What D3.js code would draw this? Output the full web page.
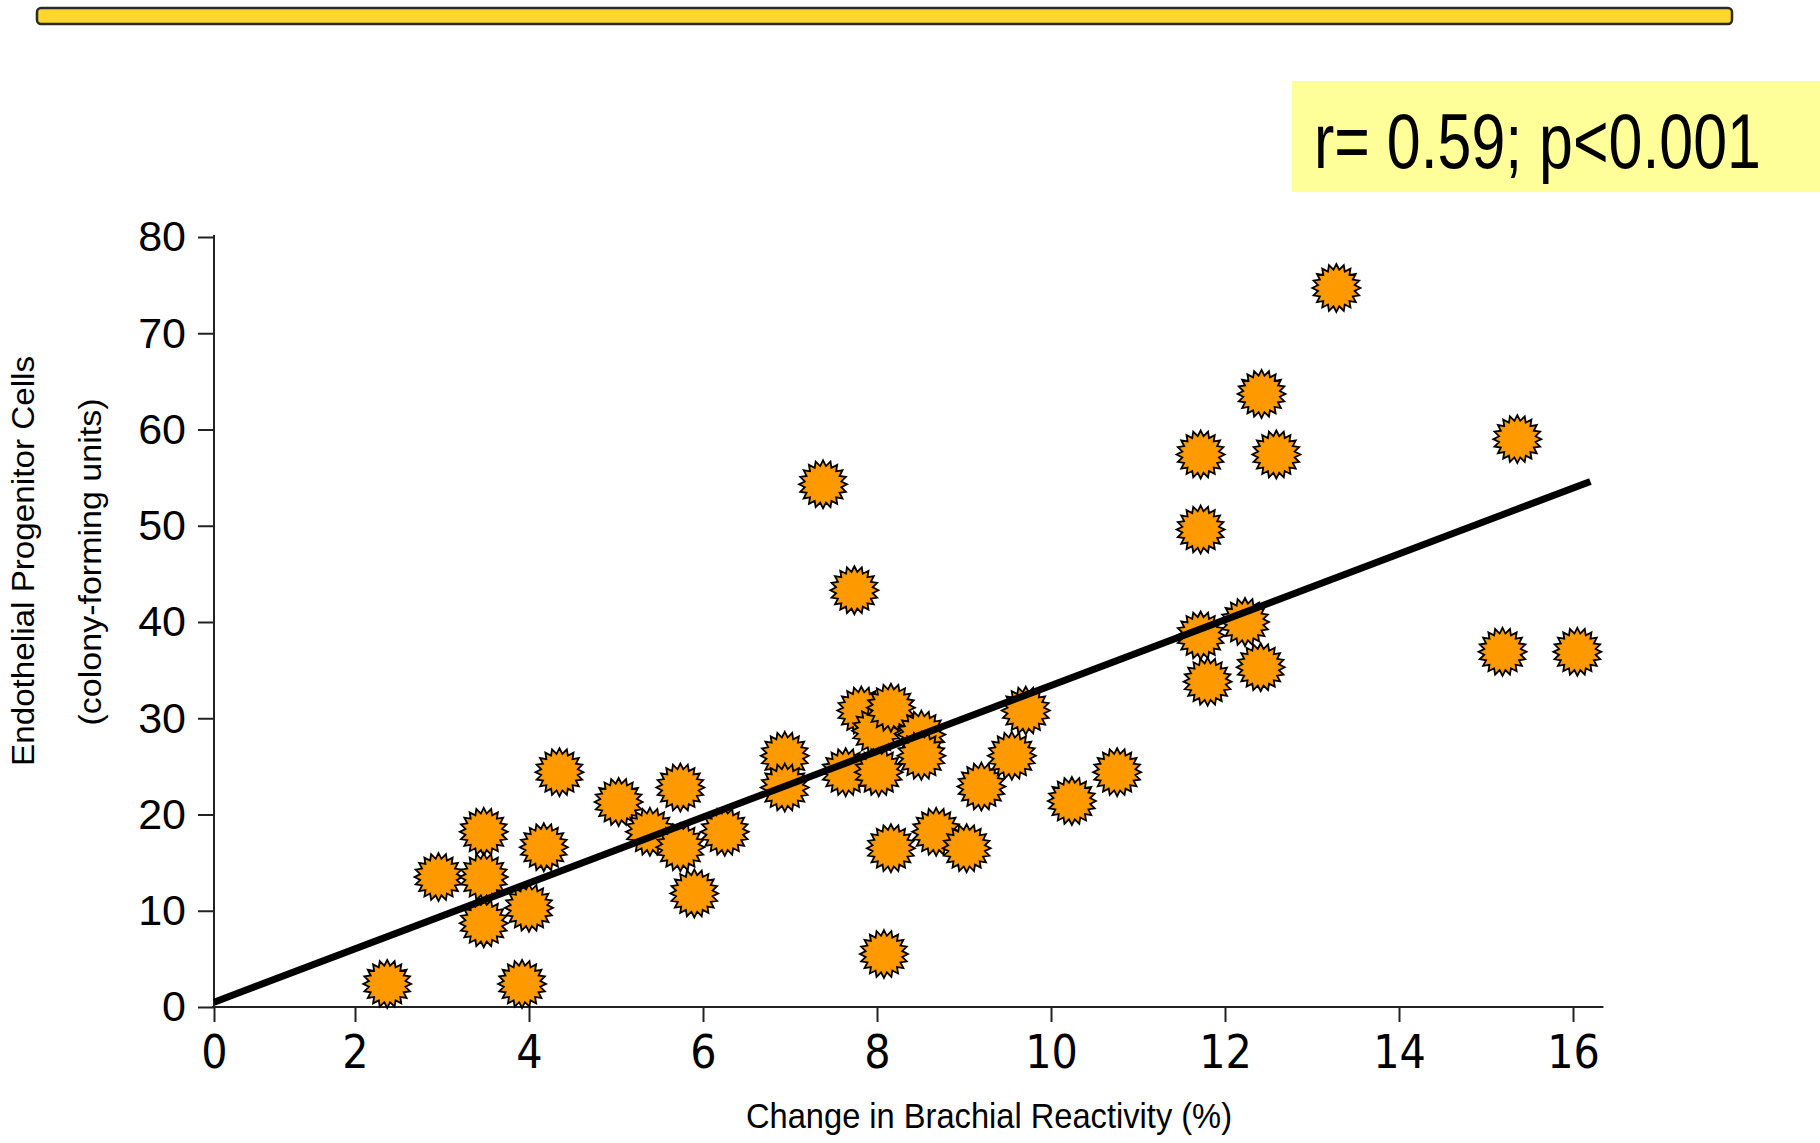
<!DOCTYPE html>
<html>
<head>
<meta charset="utf-8">
<script src="https://cdn.jsdelivr.net/npm/d3@7"></script>
<style>
  html, body { margin: 0; padding: 0; background: #fff; }
  svg { display: block; font-family: "Liberation Sans", Arial, sans-serif; }
</style>
</head>
<body>
<svg id="chart"></svg>
<script>
// change in brachial reactivity (%) vs EPC colony-forming units
const xValues = [2.37, 3.92, 2.96, 3.48, 3.48, 3.48, 4.00, 4.17, 4.35, 5.03,
  5.39, 5.74, 5.74, 5.90, 6.25, 6.94, 6.94, 7.38, 7.74, 7.64,
  7.82, 7.99, 8.16, 8.02, 8.51, 8.51, 8.16, 8.08, 8.68, 9.03,
  9.20, 9.55, 9.71, 10.24, 10.76, 11.72, 11.72, 11.72, 11.80, 12.23,
  12.42, 12.59, 12.41, 13.28, 15.36, 15.19, 16.05];
const yValues = [2.4, 2.4, 13.5, 18.2, 13.5, 8.7, 10.3, 16.6, 24.4, 21.3,
  18.2, 22.8, 16.6, 11.8, 18.2, 26.1, 22.8, 54.3, 43.3, 24.4,
  30.8, 28.7, 31.1, 24.4, 28.3, 26.1, 16.5, 5.5, 18.2, 16.5,
  22.9, 26.1, 30.8, 21.4, 24.4, 57.4, 49.6, 38.6, 33.8, 40.0,
  63.7, 57.4, 35.3, 74.7, 59.0, 36.9, 36.9];

// fitted line, end points
const fitX = [0, 16.2];
const fitY = [0.5, 54.6];

const xTicks = [0, 2, 4, 6, 8, 10, 12, 14, 16];
const yTicks = [0, 10, 20, 30, 40, 50, 60, 70, 80];

const xTitle = "Change in Brachial Reactivity (%)";
const yTitle1 = "Endothelial Progenitor Cells";
const yTitle2 = "(colony-forming units)";
const statText = "r= 0.59; p<0.001";

const W = 1820, H = 1143;
const svg = d3.select("#chart").attr("width", W).attr("height", H);

// the slide's x axis is a bit squashed between 0 and 2
const x = d3.scaleLinear().domain([0, 2, 16]).range([214, 355, 1573]);
const y = d3.scaleLinear().domain([0, 80]).range([1007, 237]);

// top gold bar
svg.append("rect")
  .attr("x", 37).attr("y", 8)
  .attr("width", 1695).attr("height", 16)
  .attr("rx", 4)
  .attr("fill", "#ffd62e")
  .attr("stroke", "#2a2a2a")
  .attr("stroke-width", 2.5);

// stat box
svg.append("rect")
  .attr("x", 1292).attr("y", 81)
  .attr("width", 528).attr("height", 111)
  .attr("fill", "#ffff99");
const stat = svg.append("text")
  .attr("font-size", 78)
  .attr("fill", "#000")
  .text(statText);
// squeeze it horizontally like the condensed slide font
const statW = stat.node().getComputedTextLength();
stat.attr("transform", "translate(1314,168) scale(" + (447 / statW) + ",1)");

// y axis
const yAxis = d3.axisLeft(y).tickValues(yTicks).tickSize(16).tickPadding(12).tickSizeOuter(0);
const gy = svg.append("g").attr("transform", "translate(214,0)").call(yAxis);
gy.select(".domain").remove();
gy.selectAll(".tick line").attr("stroke", "#222").attr("stroke-width", 2);
gy.selectAll(".tick text")
  .attr("font-family", "'Liberation Sans', Arial, sans-serif")
  .attr("font-size", 43)
  .attr("fill", "#000");
svg.append("line")
  .attr("x1", 214).attr("x2", 214)
  .attr("y1", y(80) - 2).attr("y2", y(0))
  .attr("stroke", "#222").attr("stroke-width", 2);

// x axis
const xAxis = d3.axisBottom(x).tickValues(xTicks).tickSize(15).tickPadding(13).tickSizeOuter(0);
const gx = svg.append("g").attr("transform", "translate(0," + y(0) + ")").call(xAxis);
gx.select(".domain").remove();
gx.selectAll(".tick line").attr("stroke", "#222").attr("stroke-width", 2);
gx.selectAll(".tick text")
  .attr("font-family", "'Liberation Sans Narrow', 'DejaVu Sans Condensed', sans-serif")
  .attr("font-size", 46)
  .attr("fill", "#000");
svg.append("line")
  .attr("x1", 212).attr("x2", x(16.35))
  .attr("y1", y(0)).attr("y2", y(0))
  .attr("stroke", "#222").attr("stroke-width", 2);

// axis titles
svg.append("text")
  .attr("x", 989).attr("y", 1128)
  .attr("text-anchor", "middle")
  .attr("font-size", 35)
  .attr("textLength", 486)
  .attr("lengthAdjust", "spacingAndGlyphs")
  .text(xTitle);

svg.append("text")
  .attr("transform", "translate(34,561) rotate(-90)")
  .attr("text-anchor", "middle")
  .attr("font-size", 32)
  .attr("textLength", 410)
  .attr("lengthAdjust", "spacingAndGlyphs")
  .text(yTitle1);

svg.append("text")
  .attr("transform", "translate(101,562) rotate(-90)")
  .attr("text-anchor", "middle")
  .attr("font-size", 32)
  .attr("textLength", 327)
  .attr("lengthAdjust", "spacingAndGlyphs")
  .text(yTitle2);

// starburst markers
function starPath(n, rOut, rIn) {
  const pts = [];
  for (let i = 0; i < n * 2; i++) {
    const r = i % 2 === 0 ? rOut : rIn;
    const a = Math.PI * i / n - Math.PI / 2;
    pts.push([r * Math.cos(a), r * Math.sin(a)]);
  }
  return d3.line()(pts) + "Z";
}
const star = starPath(20, 24, 18.5);

const points = xValues.map((v, i) => ({ x: v, y: yValues[i] }));

svg.append("g").selectAll("path")
  .data(points)
  .enter()
  .append("path")
  .attr("d", star)
  .attr("transform", d => "translate(" + x(d.x) + "," + y(d.y) + ")")
  .attr("fill", "#ff9900")
  .attr("stroke", "#000")
  .attr("stroke-width", 1.8)
  .attr("stroke-linejoin", "miter");

// regression line on top
svg.append("path")
  .datum(fitX.map((v, i) => [v, fitY[i]]))
  .attr("d", d3.line().x(d => x(d[0])).y(d => y(d[1])))
  .attr("fill", "none")
  .attr("stroke", "#000")
  .attr("stroke-width", 7);
</script>
</body>
</html>
